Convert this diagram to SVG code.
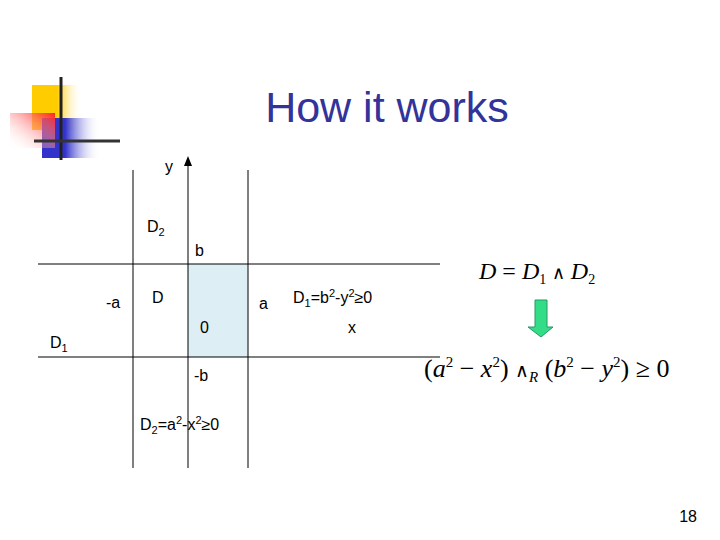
<svg xmlns="http://www.w3.org/2000/svg" width="720" height="540" viewBox="0 0 720 540">
<defs>
<linearGradient id="gy" x1="0" x2="1"><stop offset="0.5" stop-color="#ffcc00"/><stop offset="1" stop-color="#fff" stop-opacity="0"/></linearGradient>
<linearGradient id="gb" x1="0" x2="1"><stop offset="0.4" stop-color="#3333cc"/><stop offset="1" stop-color="#fff" stop-opacity="0"/></linearGradient>
<linearGradient id="gr" x1="1" x2="0" y1="0" y2="1"><stop offset="0" stop-color="#ff2020"/><stop offset="1" stop-color="#fff" stop-opacity="0"/></linearGradient>
<style>
.t{font-family:"Liberation Sans",Arial,sans-serif;font-size:16px;fill:#000}
.m{font-family:"Liberation Serif","Times New Roman",serif;font-style:italic;font-size:24px;fill:#000}
.ln{stroke:#000;stroke-width:1}
</style>
</defs>
<rect width="720" height="540" fill="#fff"/>
<g id="logo">
<rect x="32" y="85" width="50" height="45" fill="url(#gy)"/>
<rect x="42" y="118" width="58" height="40" fill="url(#gb)"/>
<rect x="10" y="113" width="45" height="35" fill="url(#gr)"/>
<line x1="61" y1="77" x2="61" y2="160" stroke="#222" stroke-width="3"/>
<line x1="34" y1="141" x2="120" y2="141" stroke="#333" stroke-width="3"/>
</g>
<text x="387" y="122" text-anchor="middle" style="font-family:'Liberation Sans',Arial,sans-serif;font-size:43px;fill:#333399">How it works</text>
<g id="grid">
<rect x="188" y="264" width="60" height="93" fill="#ddeef4"/>
<line class="ln" x1="38" y1="264" x2="440" y2="264"/>
<line class="ln" x1="38" y1="357" x2="440" y2="357"/>
<line class="ln" x1="133" y1="170" x2="133" y2="468"/>
<line class="ln" x1="248" y1="170" x2="248" y2="468"/>
<line class="ln" x1="188" y1="468" x2="188" y2="164" stroke-width="1.5"/>
<path d="M188,156 L192,166 L184,166 Z" fill="#000"/>
</g>
<g id="labels">
<text class="t" x="165" y="172">y</text>
<text class="t" x="147" y="232">D<tspan font-size="11" dy="4">2</tspan></text>
<text class="t" x="195" y="256">b</text>
<text class="t" x="106" y="308">-a</text>
<text class="t" x="152" y="303">D</text>
<text class="t" x="259" y="309">a</text>
<text class="t" x="293" y="303">D<tspan font-size="11" dy="4">1</tspan><tspan dy="-4">=b</tspan><tspan font-size="11" dy="-6">2</tspan><tspan dy="6">-y</tspan><tspan font-size="11" dy="-6">2</tspan><tspan dy="6">≥0</tspan></text>
<text class="t" x="200" y="333">0</text>
<text class="t" x="348" y="333">x</text>
<text class="t" x="50" y="348">D<tspan font-size="11" dy="4">1</tspan></text>
<text class="t" x="194" y="381">-b</text>
<text class="t" x="140" y="430">D<tspan font-size="11" dy="4">2</tspan><tspan dy="-4">=a</tspan><tspan font-size="11" dy="-6">2</tspan><tspan dy="6">-x</tspan><tspan font-size="11" dy="-6">2</tspan><tspan dy="6">≥0</tspan></text>
<text class="t" x="697" y="522" text-anchor="end" font-size="13">18</text>
</g>
<g id="formulas">
<text class="m" x="479" y="279">D <tspan font-style="normal">=</tspan> D<tspan font-size="14" dy="5" font-style="normal">1</tspan><tspan dy="-5" font-style="normal" font-family="DejaVu Serif" font-size="18"> ∧ </tspan>D<tspan font-size="14" dy="5" font-style="normal">2</tspan></text>
<text class="m" x="424" y="377" style="font-size:26px"><tspan font-style="normal">(</tspan>a<tspan font-size="15" dy="-10" font-style="normal">2</tspan><tspan dy="10" font-style="normal"> − </tspan>x<tspan font-size="15" dy="-10" font-style="normal">2</tspan><tspan dy="10" font-style="normal">) </tspan><tspan font-style="normal" font-family="DejaVu Serif" font-size="19">∧</tspan><tspan font-size="15" dy="5">R</tspan><tspan dy="-5" font-style="normal"> (</tspan>b<tspan font-size="15" dy="-10" font-style="normal">2</tspan><tspan dy="10" font-style="normal"> − </tspan>y<tspan font-size="15" dy="-10" font-style="normal">2</tspan><tspan dy="10" font-style="normal">) ≥ 0</tspan></text>
<path d="M535,300 H547 V327 H553 L541,337 L528,327 H535 Z" fill="#33dd88" stroke="#229966" stroke-width="1"/>
</g>
</svg>
